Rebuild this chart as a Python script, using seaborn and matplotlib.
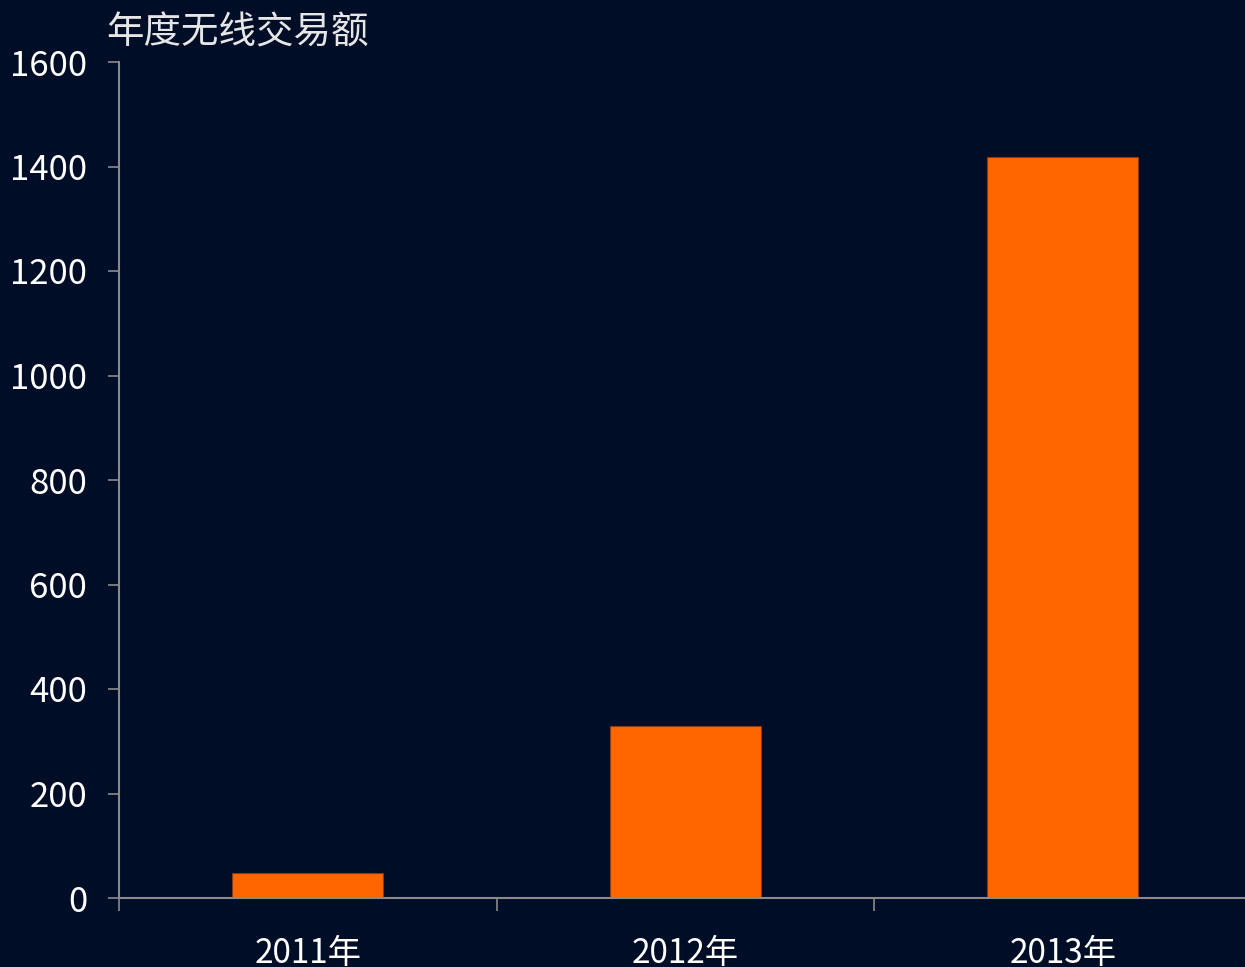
import matplotlib
matplotlib.use("Agg")
import matplotlib.pyplot as plt
import seaborn as sns
import pandas as pd

years = ["2011年", "2012年", "2013年"]
amounts = [48, 329, 1418]
title = "年度无线交易额"

bg = "#000d26"
axis_gray = "#8a8a8a"

sns.set_theme(style="white")
plt.rcParams['font.family'] = ['Noto Sans CJK SC', 'DejaVu Sans']

df = pd.DataFrame({"year": years, "amount": amounts})

fig = plt.figure(figsize=(12.45, 9.67), dpi=100, facecolor=bg)
ax = fig.add_axes([119 / 1245, 1 - 898 / 967, (1251.5 - 119) / 1245, (898 - 62) / 967])
ax.set_facecolor(bg)

sns.barplot(data=df, x="year", y="amount", color="#ff6600", width=0.4,
            edgecolor="#8a3a10", linewidth=0.8, saturation=1, ax=ax)

ax.set_xlim(-0.5, 2.5)
ax.set_ylim(0, 1600)
ax.set_yticks(range(0, 1601, 200))
ax.set_xlabel("")
ax.set_ylabel("")

for side in ["top", "right"]:
    ax.spines[side].set_visible(False)
for side in ["left", "bottom"]:
    ax.spines[side].set_color(axis_gray)
    ax.spines[side].set_linewidth(1.5)

ax.tick_params(axis="y", direction="out", length=8, width=1.2, color=axis_gray,
               colors="white", labelsize=25, pad=15, left=True)
ax.tick_params(axis="x", which="major", length=0, labelsize=24, colors="white", pad=27)
ax.set_xticks([-0.5, 0.5, 1.5], minor=True)
ax.tick_params(axis="x", which="minor", direction="out", length=9, width=1.2,
               color=axis_gray, bottom=True)

fig.text(106 / 1245, 1 - 44 / 967, title, color="#e6e6e6", fontsize=27,
         ha="left", va="baseline")

fig.savefig("out.png", dpi=100, facecolor=bg)
